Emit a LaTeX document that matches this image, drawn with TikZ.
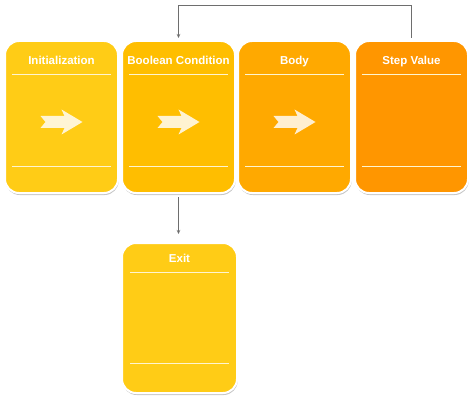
\documentclass[tikz,border=0pt]{standalone}
\usepackage{fontspec}
\setmainfont{Liberation Sans}
\usetikzlibrary{shadows,arrows.meta}
\definecolor{cA}{HTML}{FFCC16}
\definecolor{cB}{HTML}{FFBE00}
\definecolor{cC}{HTML}{FFA900}
\definecolor{cD}{HTML}{FF9600}
\definecolor{conncol}{HTML}{6E6E6E}
\tikzset{
  card/.style={draw=white, line width=2pt, rounded corners=14pt,
    minimum width=113pt, minimum height=152pt, inner sep=0pt,
    drop shadow={shadow xshift=0.6pt, shadow yshift=-2pt, opacity=0.22, fill=black}},
  ttl/.style={text=white, font=\bfseries\fontsize{11.5}{13}\selectfont, inner sep=0pt, anchor=base},
  sepline/.style={draw=white!80!cA, line width=0.9pt},
  arr/.style={fill=white, fill opacity=0.82, draw=none},
  conn/.style={draw=conncol, line width=0.8pt, -{Stealth[length=4pt,width=3.5pt]}}
}
\newcommand\mkcard[5]{%
  \node[card, fill=#3] (#1) at (#2,117) {};
  \node[ttl] (#1t) at (#2,64.2) {#4};
  \draw[sepline] (#2-49.5,74) -- (#2+49.5,74);
  \draw[sepline] (#2-49.5,166) -- (#2+49.5,166);
  \ifx&#5&\else
  \fill[arr, shift={(#2,122)}] (-21,-6) -- (3,-6) -- (0,-12.5) -- (21,0) -- (0,12.5) -- (3,6) -- (-21,6) -- (-16,0) -- cycle;
  \fi
}
\begin{document}
\begin{tikzpicture}[x=1pt,y=-1pt]
\useasboundingbox[fill=white] (0,0) rectangle (474,401);
\mkcard{b1}{61.5}{cA}{Initialization}{y}
\mkcard{b2}{178.5}{cB}{Boolean Condition}{y}
\mkcard{b3}{294.5}{cC}{Body}{y}
\mkcard{b4}{411.5}{cD}{Step Value}{}
% Exit card
\node[card, fill=cA, minimum width=115pt, minimum height=150pt] (ex) at (179.5,318) {};
\node[ttl] (ext) at (179.5,262.2) {Exit};
\draw[sepline] (130,272) -- (229,272);
\draw[sepline] (130,363) -- (229,363);
% connectors
\coordinate (top) at (0,5);
\draw[conn, shorten <=2pt, shorten >=2pt] (b4.north) -- (b4.north |- top) -| (b2.north);
\draw[conn, shorten <=3pt, shorten >=8pt] (b2.south) -- (b2.south |- ex.north);
\end{tikzpicture}
\end{document}
